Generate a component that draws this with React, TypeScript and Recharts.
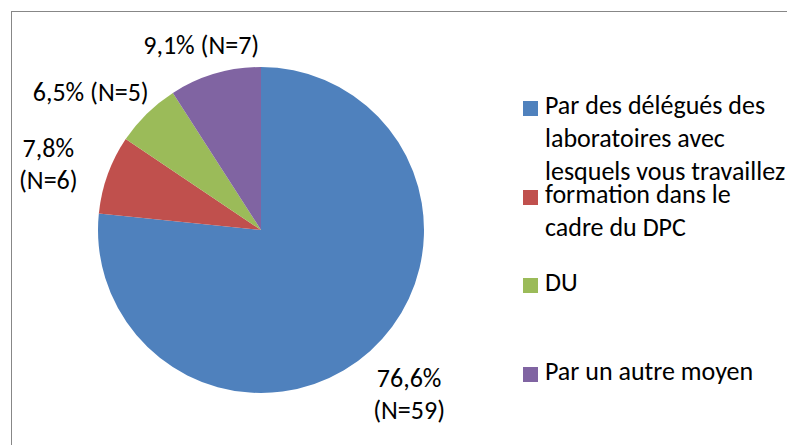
import React from 'react';
import { PieChart, Pie, Cell, Legend } from 'recharts';

// categories, split in the lines the legend shows
const legendLines = [
  ['Par des délégués des', 'laboratoires avec', 'lesquels vous travaillez'],
  ['formation dans le', 'cadre du DPC'],
  ['DU'],
  ['Par un autre moyen'],
];
const categories = legendLines.map((l) => l.join(' '));
const counts = [59, 6, 5, 7];
const percents = ['76,6%', '7,8%', '6,5%', '9,1%'];
const colors = ['#4F81BD', '#C0504D', '#9BBB59', '#8064A2'];

const data = categories.map((name, i) => ({ name, value: counts[i] }));

const FONT = 'Carlito, Calibri, Lato, sans-serif';
const FS = 26;
const LH = 32;
const RAD = Math.PI / 180;

const renderLabel = (props: any) => {
  const { cx, cy, midAngle, outerRadius, index } = props;
  const dx = Math.cos(-midAngle * RAD);
  const dy = Math.sin(-midAngle * RAD);
  const pct = percents[index];
  const n = `(N=${counts[index]})`;
  // labels below the upper half get wrapped on two lines
  const lines = dy > -0.5 ? [pct, n] : [`${pct} ${n}`];
  const w = Math.max(...lines.map((l) => l.length)) * FS * 0.46;
  const h = lines.length * LH;
  const r = outerRadius + 28;
  const x = cx + r * dx + dx * Math.abs(dx) * (w / 1.6);
  const y = cy + r * dy + Math.max(dy, 0) * (h / 2);
  const y0 = y - h / 2 + LH * 0.74;
  return (
    <text x={x} y={y0} textAnchor="middle" fill="#000" fontSize={FS} fontFamily={FONT}>
      {lines.map((l, i) => (
        <tspan key={i} x={x} y={y0 + i * LH}>
          {l}
        </tspan>
      ))}
    </text>
  );
};

const renderLegend = () => (
  <div style={{ position: 'relative', width: 264, height: 445, fontFamily: FONT, fontSize: FS, color: '#000' }}>
    {legendLines.map((lines, i) => (
      <div key={i} style={{ position: 'absolute', left: 0, top: 89 + i * 88.7, lineHeight: '33px', whiteSpace: 'nowrap' }}>
        <span style={{ position: 'absolute', left: 0, top: 12, width: 15, height: 15, background: colors[i] }} />
        <div style={{ marginLeft: 22 }}>
          {lines.map((l, j) => (
            <div key={j}>{l}</div>
          ))}
        </div>
      </div>
    ))}
  </div>
);

export default function App() {
  return (
    <div style={{ position: 'absolute', left: 0, top: 0, width: 787, height: 445, overflow: 'hidden', background: '#fff' }}>
      <div style={{ position: 'absolute', left: 11, top: 11, width: 900, height: 600, border: '1px solid #878787' }} />
      <PieChart width={787} height={445} margin={{ top: 0, right: 0, bottom: 0, left: 0 }}>
        <Pie
          data={data}
          dataKey="value"
          nameKey="name"
          cx={261}
          cy={230}
          outerRadius={163}
          startAngle={90}
          endAngle={-270}
          stroke="none"
          label={renderLabel}
          labelLine={false}
          isAnimationActive={false}
        >
          {data.map((d, i) => (
            <Cell key={d.name} fill={colors[i]} />
          ))}
        </Pie>
        <Legend
          layout="vertical"
          verticalAlign="top"
          align="right"
          content={renderLegend}
          wrapperStyle={{ left: 523, top: 0, width: 264, height: 445 }}
        />
      </PieChart>
    </div>
  );
}
